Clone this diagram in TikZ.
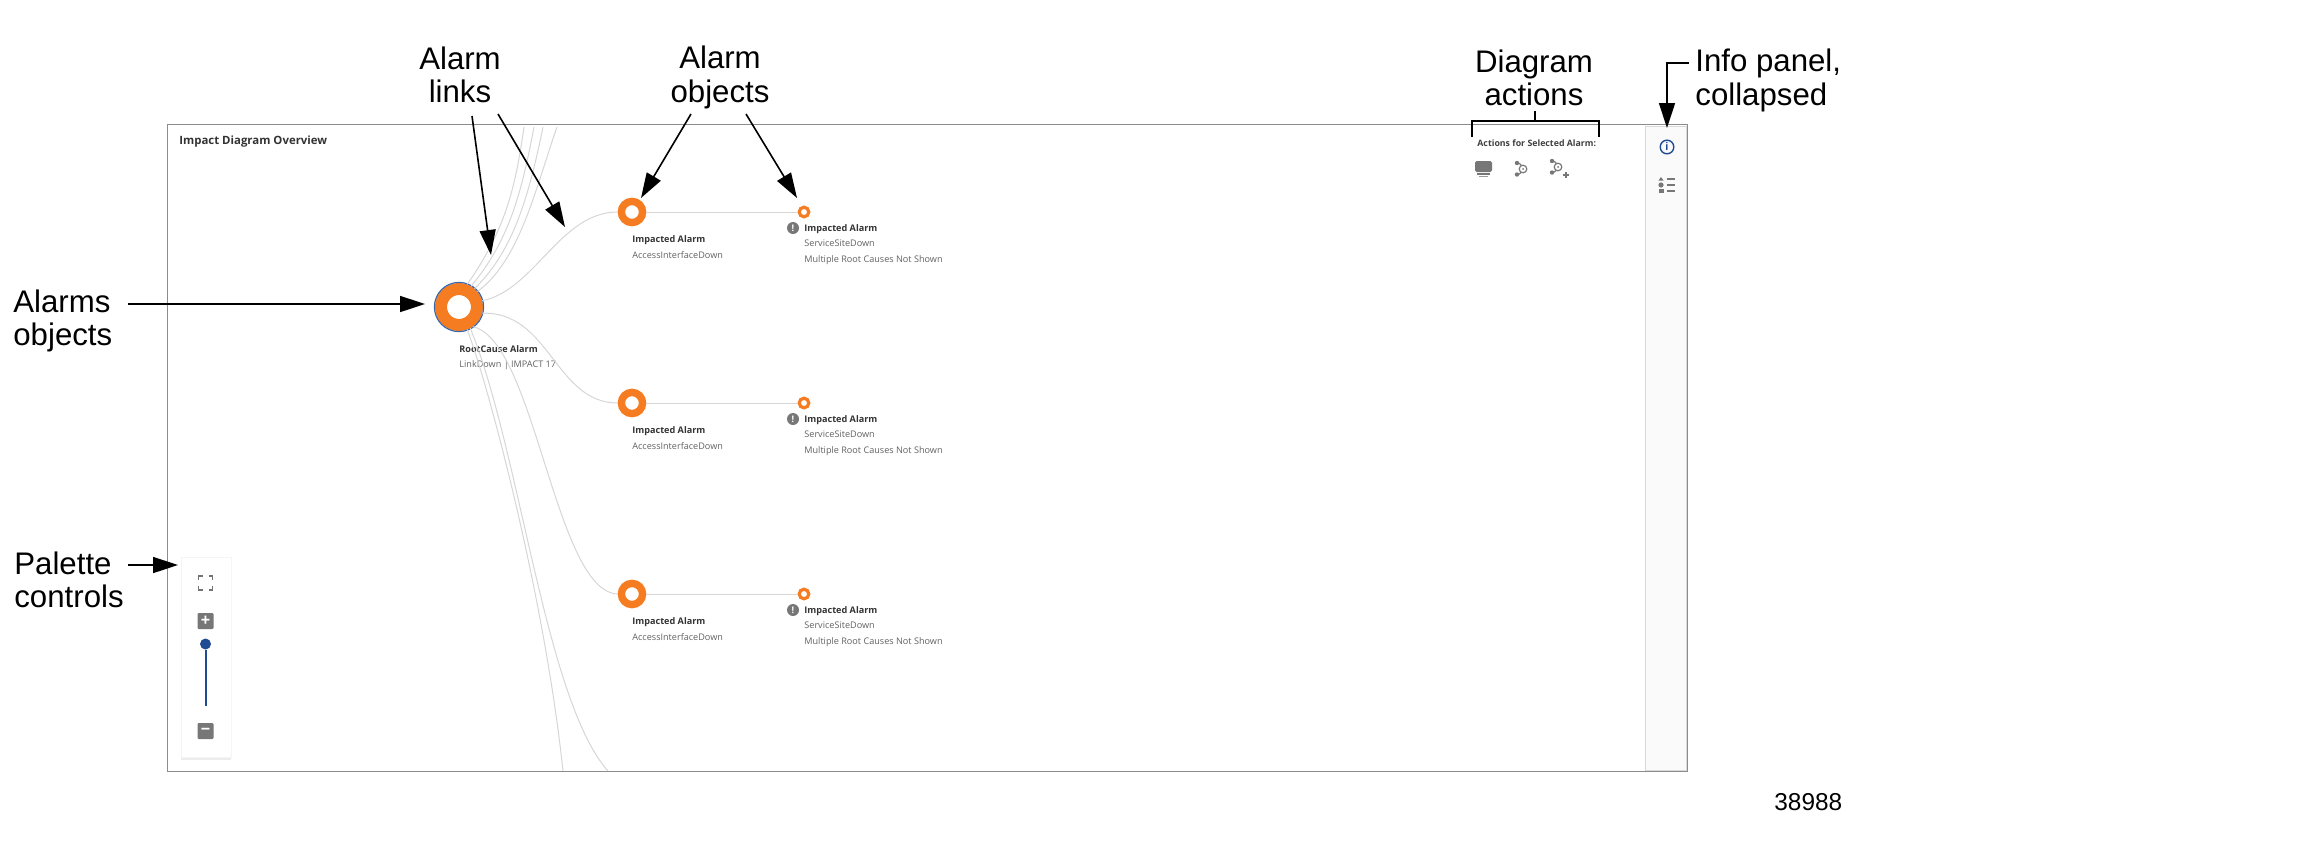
\documentclass[tikz,border=0pt]{standalone}
\usepackage{fontspec}
\setmainfont{Liberation Sans}
\newfontfamily\uifont{Open Sans}
\usetikzlibrary{arrows.meta,shadows}
\definecolor{alarmorange}{HTML}{F57C20}
\definecolor{rimblue}{HTML}{3E66A8}
\definecolor{sliderblue}{HTML}{1F4A94}
\definecolor{linkgray}{HTML}{D6D6D6}
\definecolor{iconegray}{HTML}{777777}
\tikzset{
  callout/.style={draw=black,line width=0.8pt,-{Triangle[length=12.5pt,width=8pt]}},
  biglabel/.style={inner sep=0pt,align=left,font=\fontsize{15.6}{16.6}\selectfont},
  midlabel/.style={biglabel,align=center},
  link/.style={draw=linkgray,line width=0.5pt},
  rootalarm/.style={circle,draw=alarmorange,line width=6pt,minimum size=18pt,inner sep=0pt,fill=white},
  bigalarm/.style={circle,draw=alarmorange,line width=3.7pt,minimum size=10.6pt,inner sep=0pt,fill=white},
  tinyalarm/.style={circle,draw=alarmorange,line width=1.6pt,minimum size=4.8pt,inner sep=0pt,fill=white},
  headtext/.style={inner sep=0pt,anchor=base west,text=black!80,font=\uifont\bfseries\fontsize{4.55}{5}\selectfont},
  subtext/.style={inner sep=0pt,anchor=base west,text=black!62,font=\uifont\fontsize{4.55}{5}\selectfont},
  warnmark/.style={circle,fill=iconegray,minimum size=6pt,inner sep=0pt,text=white,font=\uifont\bfseries\fontsize{4.5}{5}\selectfont},
  zoombox/.style={fill=iconegray,rounded corners=0.6pt,minimum size=8pt,inner sep=0pt,text=white,font=\bfseries\fontsize{8}{8}\selectfont},
}
\begin{document}
\begin{tikzpicture}[x=0.5pt,y=-0.5pt]
\useasboundingbox (0,0) rectangle (2314,863);

% frame and side panel
\node[draw=black!45,line width=0.5pt,minimum width=760pt,minimum height=323.5pt,inner sep=0pt,anchor=north west] (frame) at (167,124) {};
\node[draw=black!15,fill=black!2,line width=0.4pt,minimum width=20.5pt,minimum height=322pt,inner sep=0pt,anchor=north east] (infopanel) at (1686.5,126) {};
\node[inner sep=0pt,anchor=base west,text=black!80,font=\uifont\bfseries\fontsize{5.7}{6}\selectfont] (title) at (179,144) {Impact Diagram Overview};

% alarm objects
\node[rootalarm,draw=alarmorange] (root) at (459,307) {};
\draw[rimblue,line width=0.6pt] (root) circle (12.3pt);
\foreach \row/\ypos in {1/212,2/403,3/594} {
  \node[bigalarm] (imp\row) at (632,\ypos) {};
  \node[tinyalarm] (far\row) at (804,\ypos) {};
  \node[warnmark] (warn\row) at (793,\ypos+16) {!};
  \draw[link] (imp\row) -- (far\row);
  \node[headtext] (imphead\row) at (632,\ypos+30) {Impacted Alarm};
  \node[subtext] (impsub\row) at (632,\ypos+46) {AccessInterfaceDown};
  \node[headtext] (farhead\row) at (804,\ypos+19) {Impacted Alarm};
  \node[subtext] (farsub\row) at (804,\ypos+34) {ServiceSiteDown};
  \node[subtext] (farnote\row) at (804,\ypos+50) {Multiple Root Causes Not Shown};
}
\node[headtext] (roothead) at (459,352) {RootCause Alarm};
\node[subtext] (rootsub) at (459,367) {LinkDown | IMPACT 17};

% links
\coordinate (upa) at (524,127);
\coordinate (upb) at (534,127);
\coordinate (upc) at (543,127);
\coordinate (upd) at (557,127);
\coordinate (downa) at (563,771);
\coordinate (downb) at (608,771);
\draw[link] (root.70) .. controls (505,230) and (515,190) .. (upa);
\draw[link] (root.60) .. controls (510,240) and (522,190) .. (upb);
\draw[link] (root.50) .. controls (515,250) and (530,190) .. (upc);
\draw[link] (root.40) .. controls (520,260) and (535,190) .. (upd);
\draw[link] (root.15) .. controls (535,290) and (560,212) .. (imp1.west);
\draw[link] (root.-15) .. controls (550,311) and (555,403) .. (imp2.west);
\draw[link] (root.-55) .. controls (535,340) and (555,592) .. (imp3.west);
\draw[link] (root.-70) .. controls (490,390) and (545,600) .. (downa);
\draw[link] (root.-62) .. controls (520,450) and (545,700) .. (downb);

% palette
\node[draw=black!4,fill=white,drop shadow={opacity=0.15,shadow xshift=0pt,shadow yshift=-1.2pt},minimum width=25pt,minimum height=100pt,inner sep=0pt,anchor=north west] (palette) at (181,557) {};
\node[zoombox] (zoomin) at (205.5,621) {+};
\node[zoombox] (zoomout) at (205.5,731) {\textminus};
\node[circle,fill=sliderblue,minimum size=5.5pt,inner sep=0pt] (knob) at (205.5,644) {};
\coordinate (slideend) at (205.5,706);
\draw[sliderblue,line width=1pt] (knob) -- (slideend);
\coordinate (fit) at (205.5,583);
\draw[black!55,line width=0.6pt]
  ([shift={(-7,-3)}]fit) -- ++(0,-4) -- ++(4,0)
  ([shift={(3,-7)}]fit) -- ++(4,0) -- ++(0,4)
  ([shift={(7,3)}]fit) -- ++(0,4) -- ++(-4,0)
  ([shift={(-3,7)}]fit) -- ++(-4,0) -- ++(0,-4);

% actions
\node[inner sep=0pt,anchor=base west,text=black!75,font=\uifont\bfseries\fontsize{4.4}{5}\selectfont] (actionstext) at (1477,146) {Actions for Selected Alarm:};
\fill[iconegray,rounded corners=0.8pt] (1475,161) rectangle (1492,172);
\fill[iconegray] (1477,173) rectangle (1490,175);
\fill[black!40] (1479,176) rectangle (1488,177);
\foreach \xpos/\ypos in {1517/169,1552/167} {
  \draw[iconegray,line width=0.6pt] (\xpos,\ypos-6) .. controls (\xpos+7,\ypos-6) and (\xpos+7,\ypos+5.5) .. (\xpos,\ypos+5.5);
  \fill[iconegray] (\xpos,\ypos-6) circle (1.1pt) (\xpos,\ypos+5.5) circle (1.1pt);
  \draw[draw=iconegray,fill=white,line width=0.6pt] (\xpos+6,\ypos) circle (1.9pt);
  \fill[iconegray] (\xpos+6,\ypos) circle (0.5pt);
}
\draw[iconegray,line width=0.6pt] (1563,175) -- (1569,175) (1566,172) -- (1566,178);

% info panel icons
\node[circle,draw=sliderblue,line width=0.7pt,minimum size=6.8pt,inner sep=0pt,text=sliderblue,font=\bfseries\fontsize{5.5}{6}\selectfont] (infoicon) at (1667,147) {i};
\coordinate (listicon) at (1667,185);
\fill[iconegray] ([shift={(-8.5,-4.5)}]listicon) -- ++(5,0) -- ++(-2.5,-3.5) -- cycle;
\fill[iconegray] ([shift={(-6,0)}]listicon) circle (1.3pt);
\fill[iconegray] ([shift={(-8.5,4)}]listicon) rectangle ++(5,3.5);
\draw[iconegray,line width=0.6pt]
  ([shift={(0,-6)}]listicon) -- ++(8,0)
  ([shift={(0,0)}]listicon) -- ++(8,0)
  ([shift={(0,6)}]listicon) -- ++(8,0);

% callouts
\node[biglabel,anchor=west] (alarmslabel) at (13,321) {Alarms\\objects};
\node[biglabel,anchor=west] (palettelabel) at (14,580) {Palette\\controls};
\node[midlabel] (linkslabel) at (460,74.5) {Alarm\\links};
\node[midlabel] (objectslabel) at (720,77.5) {Alarm\\objects};
\node[midlabel] (actionslabel) at (1534,77.5) {Diagram\\actions};
\node[biglabel,anchor=west] (infolabel) at (1695,80.5) {Info panel,\\collapsed};
\node[inner sep=0pt,anchor=base west,font=\fontsize{12.2}{13}\selectfont] (plateno) at (1774,810) {38988};

\coordinate (alarmsend) at (128,304);
\coordinate (alarmstip) at (425,304);
\coordinate (paletteend) at (128,565);
\coordinate (palettetip) at (178,565);
\draw[callout] (alarmsend) -- (alarmstip);
\draw[callout] (paletteend) -- (palettetip);
\coordinate (linkstarta) at (472,116);
\coordinate (linkstartb) at (498,114);
\coordinate (linktipa) at (491,255);
\coordinate (linktipb) at (565,227);
\draw[callout] (linkstarta) -- (linktipa);
\draw[callout] (linkstartb) -- (linktipb);
\coordinate (objstarta) at (691,114);
\coordinate (objstartb) at (746,114);
\coordinate (objtipa) at (641,198);
\coordinate (objtipb) at (797,198);
\draw[callout] (objstarta) -- (objtipa);
\draw[callout] (objstartb) -- (objtipb);
\coordinate (bracketleft) at (1472,121);
\coordinate (bracketright) at (1599,121);
\draw[line width=0.8pt] ([yshift=-8pt]bracketleft) -- (bracketleft) -- (bracketright) -- ([yshift=-8pt]bracketright);
\draw[line width=0.8pt] (1535,111) -- (1535,121);
\coordinate (infostart) at (1689,63);
\coordinate (infotip) at (1667,128);
\draw[callout] (infostart) -| (infotip);
\end{tikzpicture}
\end{document}
